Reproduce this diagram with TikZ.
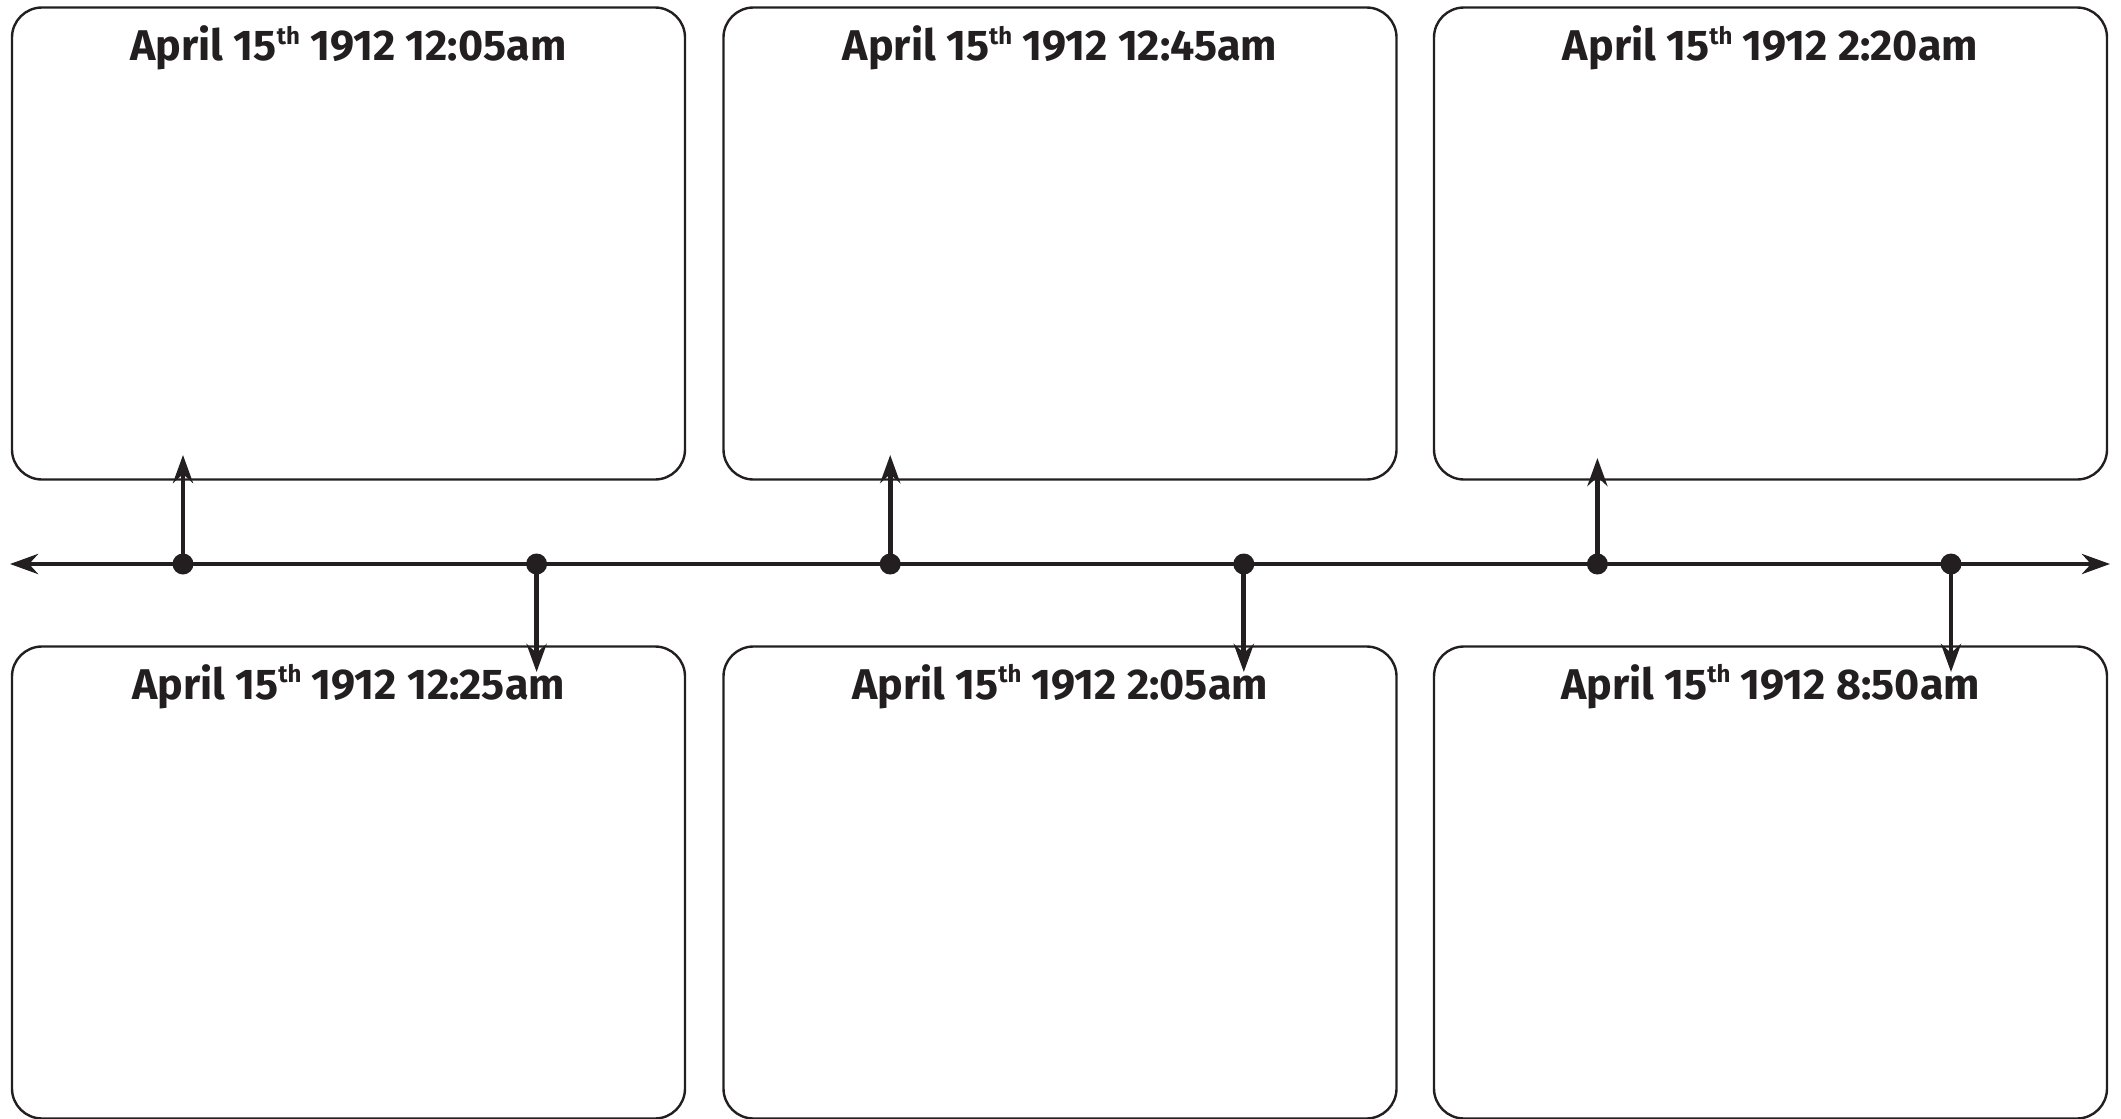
\documentclass[tikz,border=0pt]{standalone}
\usepackage{fontspec}
\setmainfont{Fira Sans}
\usetikzlibrary{arrows.meta}
\definecolor{ink}{HTML}{231F20}
\newcommand{\ordth}{\raisebox{0.72ex}{\fontsize{12}{12}\selectfont th}}
\tikzset{
  box/.style={draw=ink, line width=1.2pt, rounded corners=15pt, minimum width=336.5pt, minimum height=236pt, inner sep=0pt},
  ttl/.style={anchor=base, text=ink, font=\fontsize{21.5}{26}\selectfont\bfseries, inner sep=0pt},
  dot/.style={circle, fill=ink, minimum size=10.5pt, inner sep=0pt},
  axis/.style={draw=ink, line width=2.35pt, {Stealth[length=14pt,width=10pt,inset=4.5pt]}-{Stealth[length=14pt,width=10pt,inset=4.5pt]}},
  pin/.style={draw=ink, line width=2.4pt, -{Stealth[length=14pt,width=10pt,inset=4.5pt]}}
}
\begin{document}
\begin{tikzpicture}[x=0.5pt,y=-0.5pt]
\useasboundingbox (0,0) rectangle (2121,1119);
% boxes
\node[box] (b1) at (348.5,243.5) {};
\node[box] (b2) at (1060,243.5) {};
\node[box] (b3) at (1770.5,243.5) {};
\node[box] (b4) at (348.5,882.5) {};
\node[box] (b5) at (1060,882.5) {};
\node[box] (b6) at (1770.5,882.5) {};
% titles
\node[ttl] (t1) at (348.5,60.5) {April 15\ordth{} 1912 12:05am};
\node[ttl] (t2) at (1060,60.5) {April 15\ordth{} 1912 12:45am};
\node[ttl] (t3) at (1770.5,60.5) {April 15\ordth{} 1912 2:20am};
\node[ttl] (t4) at (348.5,699) {April 15\ordth{} 1912 12:25am};
\node[ttl] (t5) at (1060,699) {April 15\ordth{} 1912 2:05am};
\node[ttl] (t6) at (1770.5,699) {April 15\ordth{} 1912 8:50am};
% timeline
\coordinate (L) at (10,564);
\coordinate (R) at (2110,564);
\draw[axis] (L) -- (R);
% dots
\node[dot] (d1) at (183,564) {};
\node[dot] (d2) at (536.6,564) {};
\node[dot] (d3) at (890.2,564) {};
\node[dot] (d4) at (1243.8,564) {};
\node[dot] (d5) at (1597.4,564) {};
\node[dot] (d6) at (1951,564) {};
% arrow tips
\coordinate (u1) at (183,455);
\coordinate (u3) at (890.2,455);
\coordinate (u5) at (1597.4,458);
\coordinate (w2) at (536.6,672);
\coordinate (w4) at (1243.8,672);
\coordinate (w6) at (1951,672);
\draw[pin] (d1.center) -- (u1);
\draw[pin] (d3.center) -- (u3);
\draw[pin] (d5.center) -- (u5);
\draw[pin] (d2.center) -- (w2);
\draw[pin] (d4.center) -- (w4);
\draw[pin] (d6.center) -- (w6);
\end{tikzpicture}
\end{document}
